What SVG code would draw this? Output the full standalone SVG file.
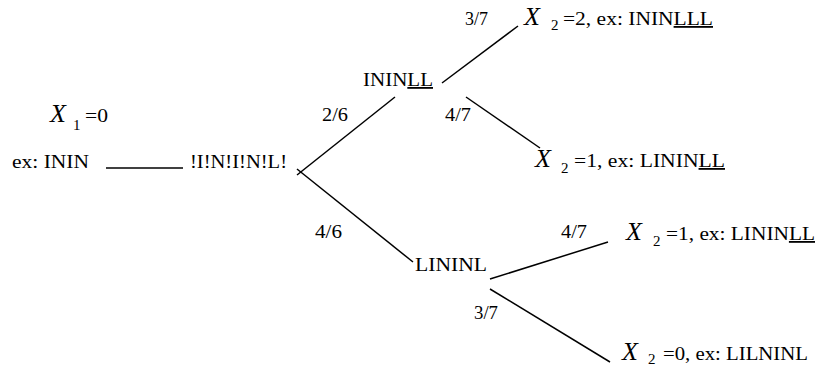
<svg xmlns="http://www.w3.org/2000/svg" width="816" height="366" viewBox="0 0 816 366">
<style>
text{font-family:"Liberation Serif","Times New Roman",serif;fill:#000;font-size:18px}
.X{font-style:italic;font-size:26px}
.sub{font-size:15px}
.u{text-decoration:underline}
.c line{stroke:#000;stroke-width:1.5}
</style>
<rect width="816" height="366" fill="#fff"/>
<g class="c" id="connectors">
<line x1="106" y1="168" x2="183" y2="168"/>
<line x1="297" y1="175" x2="395" y2="97"/>
<line x1="297" y1="169" x2="413" y2="262"/>
<line x1="442" y1="83" x2="518" y2="26"/>
<line x1="466" y1="97" x2="540" y2="148"/>
<line x1="490" y1="279" x2="608" y2="242"/>
<line x1="490" y1="289" x2="610" y2="362"/>
</g>
<g id="start">
<text class="X" x="50" y="122">X</text>
<text class="sub" x="73" y="130">1</text>
<text x="85" y="122" textLength="23" lengthAdjust="spacingAndGlyphs">=0</text>
<text x="12" y="168" textLength="77" lengthAdjust="spacingAndGlyphs">ex: ININ</text>
</g>
<g id="root">
<text x="190" y="168" textLength="97" lengthAdjust="spacingAndGlyphs">!I!N!I!N!L!</text>
</g>
<g id="edge-labels">
<text x="322" y="121" textLength="26" lengthAdjust="spacingAndGlyphs">2/6</text>
<text x="315" y="238" textLength="27" lengthAdjust="spacingAndGlyphs">4/6</text>
<text x="465" y="25" textLength="23" lengthAdjust="spacingAndGlyphs">3/7</text>
<text x="445" y="121" textLength="26" lengthAdjust="spacingAndGlyphs">4/7</text>
<text x="561" y="238" textLength="26" lengthAdjust="spacingAndGlyphs">4/7</text>
<text x="474" y="319" textLength="24" lengthAdjust="spacingAndGlyphs">3/7</text>
</g>
<g id="ININLL">
<text x="363" y="86" textLength="70" lengthAdjust="spacingAndGlyphs">ININ<tspan class="u">LL</tspan></text>
</g>
<g id="LININL">
<text x="415" y="271" textLength="72" lengthAdjust="spacingAndGlyphs">LININL</text>
</g>
<g id="leaf1">
<text class="X" x="524" y="25">X</text>
<text class="sub" x="551" y="30">2</text>
<text x="563" y="25" textLength="150" lengthAdjust="spacingAndGlyphs">=2, ex: ININ<tspan class="u">LLL</tspan></text>
</g>
<g id="leaf2">
<text class="X" x="535" y="167">X</text>
<text class="sub" x="561" y="173">2</text>
<text x="574" y="167" textLength="151" lengthAdjust="spacingAndGlyphs">=1, ex: LININ<tspan class="u">LL</tspan></text>
</g>
<g id="leaf3">
<text class="X" x="626" y="240">X</text>
<text class="sub" x="653" y="246">2</text>
<text x="666" y="240" textLength="149" lengthAdjust="spacingAndGlyphs">=1, ex: LININ<tspan class="u">LL</tspan></text>
</g>
<g id="leaf4">
<text class="X" x="622" y="360">X</text>
<text class="sub" x="648" y="364">2</text>
<text x="663" y="360" textLength="145" lengthAdjust="spacingAndGlyphs">=0, ex: LILNINL</text>
</g>
</svg>
